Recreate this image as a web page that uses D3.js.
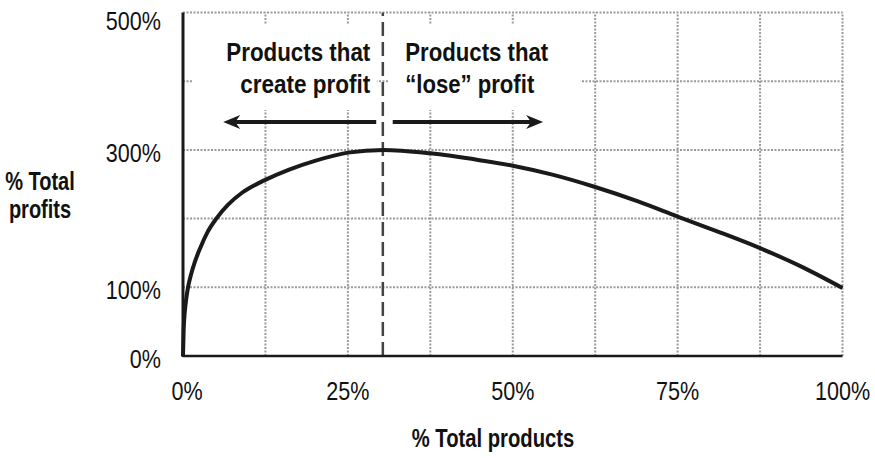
<!DOCTYPE html>
<html>
<head>
<meta charset="utf-8">
<script src="https://cdnjs.cloudflare.com/ajax/libs/d3/7.8.5/d3.min.js"></script>
<style>
    body { margin: 0; background: #fff; }
    text { font-family: "Liberation Sans Narrow", "Arial Narrow", "Liberation Sans", Arial, sans-serif; fill: #111; }
    .grid { stroke: #9a9a9a; stroke-width: 2; stroke-dasharray: 2,1.5; fill: none; }
</style>
</head>
<body>
<div id="chart"></div>
<script>
// values (% of total products -> % of total profits)
const productShare = [0, 0.1, 0.25, 0.45, 0.76, 1.2, 1.8, 2.6, 3.7, 5.05, 6.8, 9.0, 12.4, 16, 20, 25, 30.4, 37.5, 45, 50, 56, 62.5, 69, 75, 81, 87.5, 94, 100];
const profitShare  = [0, 38, 62, 80, 100, 118, 137, 157, 180, 200, 220, 238, 256, 271, 284, 296, 300, 295, 285, 277, 264, 246, 225, 203, 181.5, 157, 129, 99];

const xTicks = [0, 25, 50, 75, 100];
const yTicks = [0, 100, 300, 500];
const gridX = [0, 12.5, 25, 37.5, 50, 62.5, 75, 87.5, 100];
const gridY = [100, 200, 300, 400, 500];
const splitAt = 30.3;

const leftLabel = ["Products that", "create profit"];
const rightLabel = ["Products that", "\u201Close\u201D profit"];
const yTitle = ["% Total", "profits"];
const xTitle = "% Total products";

// squeeze a text to a narrow face (no Arial Narrow installed)
function condense(sel, k) {
    sel.each(function () {
        const t = d3.select(this);
        const tx = +t.attr("x"), ty = +t.attr("y");
        t.attr("x", 0).attr("y", 0)
            .attr("transform", `translate(${tx},${ty}) scale(${k},1)`);
    });
}

class ProfitCurve {
    constructor(config) {
        this.margin = { top: 12.5, right: 32.5, bottom: 102, left: 183 };
        this.width = config.width - this.margin.left - this.margin.right;
        this.height = config.height - this.margin.top - this.margin.bottom;

        this.svg = d3.select(config.container).append("svg")
            .attr("width", config.width)
            .attr("height", config.height);

        this.x = d3.scaleLinear().domain([0, 100]).range([this.margin.left, this.margin.left + this.width]);
        this.y = d3.scaleLinear().domain([0, 500]).range([this.margin.top + this.height, this.margin.top]);

        this.drawGrid();
        this.drawAnnotations();
        this.drawAxes();
        this.drawCurve();
    }

    drawGrid() {
        const x = this.x, y = this.y;
        this.svg.append("g").selectAll("line.gx")
            .data(gridX.slice(1))
            .join("line")
            .attr("class", "grid")
            .attr("x1", d => x(d)).attr("x2", d => x(d))
            .attr("y1", y(0)).attr("y2", y(500));

        this.svg.append("g").selectAll("line.gy")
            .data(gridY)
            .join("line")
            .attr("class", "grid")
            .attr("x1", x(0)).attr("x2", x(100))
            .attr("y1", d => y(d)).attr("y2", d => y(d));
    }

    drawAnnotations() {
        const x = this.x, y = this.y;
        // white boxes behind the labels hide the grid
        const boxes = [[1.5, 29.4], [31.1, 60.3]];
        this.svg.append("g").selectAll("rect")
            .data(boxes)
            .join("rect")
            .attr("x", d => x(d[0]))
            .attr("width", d => x(d[1]) - x(d[0]))
            .attr("y", y(481.8))
            .attr("height", y(358) - y(481.8))
            .attr("fill", "#fff");

        const lines = [
            { t: leftLabel, at: 28.4, anchor: "end", len: [144, 130] },
            { t: rightLabel, at: 33.7, anchor: "start", len: [143, 129] }
        ];
        const baselines = [428.7, 383.5];
        lines.forEach((l) => {
            l.t.forEach((s, i) => {
                this.svg.append("text")
                    .attr("x", x(l.at))
                    .attr("y", y(baselines[i]))
                    .attr("text-anchor", l.anchor)
                    .attr("textLength", l.len[i])
                    .attr("lengthAdjust", "spacingAndGlyphs")
                    .style("font-size", "25px")
                    .style("font-weight", "bold")
                    .text(s);
            });
        });

        // split line
        this.svg.append("line")
            .attr("x1", x(splitAt)).attr("x2", x(splitAt))
            .attr("y1", y(0)).attr("y2", y(500))
            .attr("stroke", "#444")
            .attr("stroke-width", 2.5)
            .attr("stroke-dasharray", "14,6");

        // arrows
        const arrows = [[29.3, 6.1], [31.8, 54.6]];
        const ay = y(340.6);
        arrows.forEach((a) => {
            const x0 = x(a[0]), x1 = x(a[1]);
            const dir = x1 > x0 ? 1 : -1;
            this.svg.append("line")
                .attr("x1", x0).attr("x2", x1 - dir * 10)
                .attr("y1", ay).attr("y2", ay)
                .attr("stroke", "#1a1a1a")
                .attr("stroke-width", 4);
            this.svg.append("path")
                .attr("d", `M ${x1} ${ay} L ${x1 - dir * 17} ${ay - 7} L ${x1 - dir * 12} ${ay} L ${x1 - dir * 17} ${ay + 7} Z`)
                .attr("fill", "#1a1a1a");
        });
    }

    drawAxes() {
        const x = this.x, y = this.y;
        this.svg.append("line")
            .attr("x1", x(0)).attr("x2", x(100))
            .attr("y1", y(0)).attr("y2", y(0))
            .attr("stroke", "#1a1a1a").attr("stroke-width", 2.5);
        this.svg.append("line")
            .attr("x1", x(0)).attr("x2", x(0))
            .attr("y1", y(0) + 1).attr("y2", y(500))
            .attr("stroke", "#1a1a1a").attr("stroke-width", 3);

        this.svg.append("g").selectAll("text")
            .data(yTicks)
            .join("text")
            .attr("x", x(0) - 22)
            .attr("y", d => Math.max(y(d) + 12, 30))
            .attr("text-anchor", "end")
            .style("font-size", "26px")
            .text(d => d + "%")
            .call(condense, 0.83);

        this.svg.append("g").selectAll("text")
            .data(xTicks)
            .join("text")
            .attr("x", d => x(d) + (d === 0 ? 4 : 0))
            .attr("y", y(0) + 44)
            .attr("text-anchor", "middle")
            .style("font-size", "26px")
            .text(d => d + "%")
            .call(condense, 0.83);

        this.svg.append("text")
            .attr("x", 493)
            .attr("y", 447)
            .attr("text-anchor", "middle")
            .style("font-size", "25px")
            .style("font-weight", "bold")
            .text(xTitle)
            .call(condense, 0.81);

        this.svg.append("g").selectAll("text")
            .data(yTitle)
            .join("text")
            .attr("x", 40)
            .attr("y", (d, i) => 190 + i * 28)
            .attr("text-anchor", "middle")
            .style("font-size", "25px")
            .style("font-weight", "bold")
            .text(d => d)
            .call(condense, 0.8);
    }

    drawCurve() {
        const line = d3.line()
            .x((d, i) => this.x(productShare[i]))
            .y(d => this.y(d))
            .curve(d3.curveMonotoneX);
        this.svg.append("path")
            .datum(profitShare)
            .attr("d", line)
            .attr("fill", "none")
            .attr("stroke", "#1a1a1a")
            .attr("stroke-width", 4)
            .attr("stroke-linejoin", "round");
    }
}

new ProfitCurve({ container: "#chart", width: 875, height: 458 });
</script>
</body>
</html>
